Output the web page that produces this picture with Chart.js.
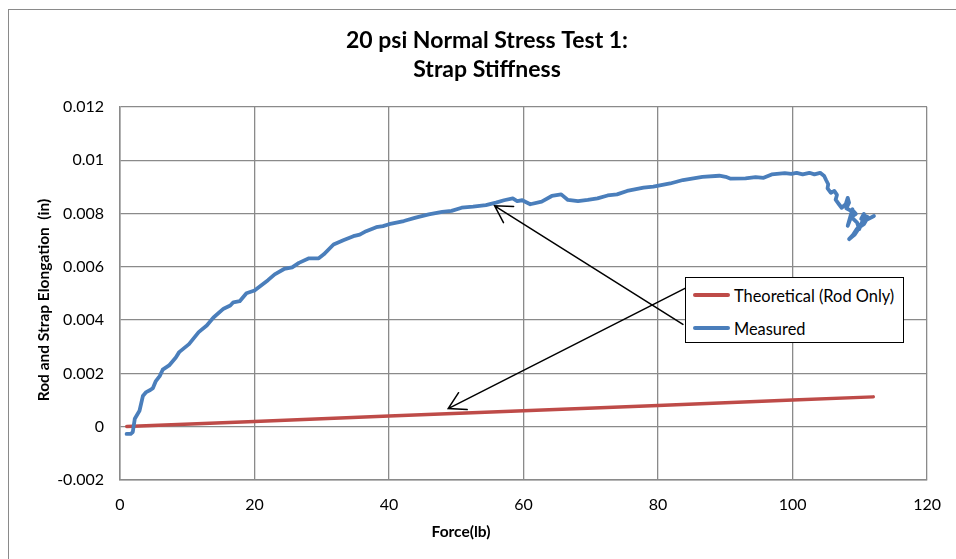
<!DOCTYPE html>
<html>
<head>
<meta charset="utf-8">
<script src="https://cdn.jsdelivr.net/npm/chart.js@4/dist/chart.umd.min.js"></script>
<style>
  html, body { margin: 0; padding: 0; background: #fff; overflow: hidden; }
  #wrap { position: relative; width: 956px; height: 559px; }
  #frame { position: absolute; left: 8px; top: 9px; width: 1000px; height: 600px; border-left: 1px solid #8a8a8a; border-top: 1px solid #8a8a8a; }
  #chart { position: absolute; left: 0; top: 0; }
  #legend { position: absolute; left: 685px; top: 277px; width: 219px; height: 66px; box-sizing: border-box; border: 1px solid #000; background: #fff; font-family: Lato, "Open Sans", sans-serif; font-size: 16.4px; color: #000; }
  .item { position: absolute; left: 7px; height: 20px; display: flex; align-items: center; white-space: nowrap; }
  .swatch { width: 37px; height: 4px; border-radius: 2px; margin-right: 4px; }
  #overlay { position: absolute; left: 0; top: 0; pointer-events: none; }
</style>
</head>
<body>
<div id="wrap">
  <div id="frame"></div>
  <canvas id="chart" width="956" height="559"></canvas>
  <div id="legend"></div>
  <canvas id="overlay" width="956" height="559"></canvas>
</div>
<script>
// ---------- data ----------
const chartTitle = ["20 psi Normal Stress Test 1:", "Strap Stiffness"];
const xAxisTitle = "Force(lb)";
const yAxisTitle = "Rod and Strap Elongation  (in)";
const seriesNames = ["Theoretical (Rod Only)", "Measured"];
const seriesColors = ["#be4b48", "#4a7ebb"];

const xTicks = [0, 20, 40, 60, 80, 100, 120];
const yTicks = [-0.002, 0, 0.002, 0.004, 0.006, 0.008, 0.01, 0.012];
const yTickLabels = ["-0.002", "0", "0.002", "0.004", "0.006", "0.008", "0.01", "0.012"];

const forceTheory = [1, 20, 40, 60, 80, 100, 112];
const elongTheory = [0.00001, 0.0002, 0.0004, 0.0006, 0.0008, 0.001, 0.00112];

const forceMeasured = [0.98, 1.6, 1.9, 2.2, 2.9, 3.4, 3.9, 4.5, 4.9, 5.3, 5.9, 6.35, 7.3, 8.3, 8.8, 10.26, 11.7, 12.9, 13.9, 15.4, 16.4, 16.85, 17.8, 18.8, 20.0, 22.0, 23.0, 24.4, 25.6, 26.6, 28.1, 29.55, 30.3, 31.75, 33.2, 34.7, 35.65, 36.6, 38.1, 39.1, 40.0, 42.2, 43.96, 45.9, 47.9, 49.3, 50.8, 52.5, 54.4, 55.9, 57.1, 58.4, 59.05, 59.8, 61.0, 62.7, 64.2, 65.6, 66.6, 68.1, 69.55, 71.0, 72.5, 73.9, 75.4, 77.85, 79.3, 81.8, 83.7, 86.6, 89.1, 90.05, 90.8, 93.0, 94.5, 95.7, 96.9, 98.85, 99.8, 100.6, 101.5, 102.5, 103.25, 104.1, 104.7, 105.0, 105.3, 105.2, 105.7, 106.2, 106.6, 106.4, 106.9, 107.3, 107.9, 108.2, 108.4, 108.0, 108.7, 108.9, 108.4, 108.2, 108.6, 108.9, 109.4, 109.0, 108.6, 109.6, 109.9, 110.4, 110.6, 110.2, 110.9, 111.2, 110.6, 110.0, 109.2, 108.4, 109.0, 109.5, 110.5, 111.3, 112.1];
const elongMeasured = [-0.00027, -0.00027, -0.0002, 0.0003, 0.0006, 0.00115, 0.0013, 0.00138, 0.00145, 0.0017, 0.0019, 0.00214, 0.0023, 0.0026, 0.0028, 0.0031, 0.00355, 0.0038, 0.0041, 0.00443, 0.00455, 0.00467, 0.00471, 0.00501, 0.00511, 0.0055, 0.00572, 0.00592, 0.00598, 0.00615, 0.00632, 0.00632, 0.00647, 0.00684, 0.007, 0.00715, 0.00721, 0.00734, 0.00749, 0.00753, 0.0076, 0.00772, 0.00785, 0.00797, 0.00806, 0.0081, 0.00822, 0.00826, 0.00832, 0.00841, 0.0085, 0.00857, 0.00847, 0.0085, 0.00835, 0.00845, 0.00866, 0.00872, 0.00851, 0.00847, 0.00851, 0.00857, 0.00868, 0.00872, 0.00885, 0.00897, 0.00901, 0.00913, 0.00926, 0.00938, 0.00942, 0.00938, 0.00931, 0.00932, 0.00937, 0.00934, 0.00947, 0.00952, 0.00949, 0.00953, 0.00947, 0.00953, 0.00947, 0.00953, 0.00941, 0.00925, 0.0091, 0.00895, 0.00878, 0.00885, 0.0087, 0.00852, 0.00835, 0.00822, 0.00835, 0.00859, 0.00841, 0.0082, 0.0081, 0.00816, 0.00772, 0.00754, 0.0078, 0.0079, 0.00799, 0.0081, 0.0079, 0.00766, 0.00741, 0.00772, 0.00799, 0.0078, 0.0079, 0.00786, 0.0076, 0.0075, 0.0072, 0.00704, 0.0072, 0.0074, 0.0077, 0.0078, 0.00791];

// annotation arrows: [tailX, tailY, tipX, tipY] in data units
const arrowMeasured = [83.7, 0.00384, 55.7, 0.00829];
const arrowTheory = [84.0, 0.00519, 48.8, 0.00068];

// ---------- build ----------
const FONT = "Lato, 'Open Sans', sans-serif";
const toPts = (xs, ys) => xs.map((x, i) => ({ x: x, y: ys[i] }));

const legend = document.getElementById('legend');
seriesNames.forEach((n, i) => {
  const d = document.createElement('div');
  d.className = 'item';
  d.style.top = (i === 0 ? 7 : 40) + 'px';
  d.innerHTML = '<span class="swatch" style="background:' + seriesColors[i] + '"></span><span>' + n + '</span>';
  legend.appendChild(d);
});

const textPlugin = {
  id: 'texts',
  afterDraw(chart) {
    const ctx = chart.ctx;
    ctx.save();
    ctx.fillStyle = '#000';
    ctx.textAlign = 'center';
    ctx.textBaseline = 'alphabetic';
    ctx.font = 'bold 23px ' + FONT;
    ctx.fillText(chartTitle[0], 487, 48);
    ctx.fillText(chartTitle[1], 487, 77);
    ctx.font = 'bold 15.5px ' + FONT;
    ctx.textBaseline = 'middle';
    ctx.fillText(xAxisTitle, 461, 532);
    ctx.translate(44, 300);
    ctx.rotate(-Math.PI / 2);
    ctx.fillText(yAxisTitle, 0, 0);
    ctx.restore();
  }
};

const arrowPlugin = {
  id: 'arrows',
  afterRender(chart) {
    const ov = document.getElementById('overlay');
    const ctx = ov.getContext('2d');
    ctx.clearRect(0, 0, ov.width, ov.height);
    const sx = chart.scales.x, sy = chart.scales.y;
    [arrowMeasured, arrowTheory].forEach(ar => {
      const x1 = sx.getPixelForValue(ar[0]), y1 = sy.getPixelForValue(ar[1]);
      const x2 = sx.getPixelForValue(ar[2]), y2 = sy.getPixelForValue(ar[3]);
      const ang = Math.atan2(y1 - y2, x1 - x2);
      const L = 19, spread = Math.PI / 6;
      ctx.save();
      ctx.strokeStyle = '#000';
      ctx.lineWidth = 1.5;
      ctx.lineCap = 'round';
      ctx.beginPath();
      ctx.moveTo(x1, y1); ctx.lineTo(x2, y2);
      ctx.moveTo(x2 + L * Math.cos(ang - spread), y2 + L * Math.sin(ang - spread));
      ctx.lineTo(x2, y2);
      ctx.lineTo(x2 + L * Math.cos(ang + spread), y2 + L * Math.sin(ang + spread));
      ctx.stroke();
      ctx.restore();
    });
  }
};

new Chart(document.getElementById('chart'), {
  type: 'scatter',
  data: {
    datasets: [
      { label: seriesNames[0], data: toPts(forceTheory, elongTheory), showLine: true, borderColor: seriesColors[0], backgroundColor: seriesColors[0], borderWidth: 3.5, pointRadius: 0, tension: 0, borderCapStyle: 'round', order: 1 },
      { label: seriesNames[1], data: toPts(forceMeasured, elongMeasured), showLine: true, borderColor: seriesColors[1], backgroundColor: seriesColors[1], borderWidth: 3.8, pointRadius: 0, tension: 0, borderCapStyle: 'round', borderJoinStyle: 'round', order: 0 }
    ]
  },
  options: {
    responsive: false,
    animation: false,
    events: [],
    layout: { padding: { left: 0, right: 17, top: 107, bottom: 0 } },
    plugins: { legend: { display: false }, title: { display: false }, tooltip: { enabled: false } },
    scales: {
      x: {
        type: 'linear', min: 0, max: 120,
        afterBuildTicks: s => { s.ticks = xTicks.map(v => ({ value: v })); },
        afterFit: s => { s.height = 79; },
        border: { color: '#8a8a8a', width: 1.5 },
        grid: { color: '#8a8a8a', lineWidth: 1.3, drawTicks: false },
        ticks: { color: '#000', font: { family: FONT, size: 16 }, padding: 15, maxRotation: 0 }
      },
      y: {
        type: 'linear', min: -0.002, max: 0.012,
        afterBuildTicks: s => { s.ticks = yTicks.map(v => ({ value: v })); },
        afterFit: s => { s.width = 120; },
        border: { color: '#8a8a8a', width: 1.5 },
        grid: { color: '#8a8a8a', lineWidth: 1.3, drawTicks: false },
        ticks: { color: '#000', font: { family: FONT, size: 16 }, padding: 16,
          callback: (v) => { const i = yTicks.findIndex(t => Math.abs(t - v) < 1e-9); return i >= 0 ? yTickLabels[i] : ''; } }
      }
    }
  },
  plugins: [textPlugin, arrowPlugin]
});
</script>
</body>
</html>
